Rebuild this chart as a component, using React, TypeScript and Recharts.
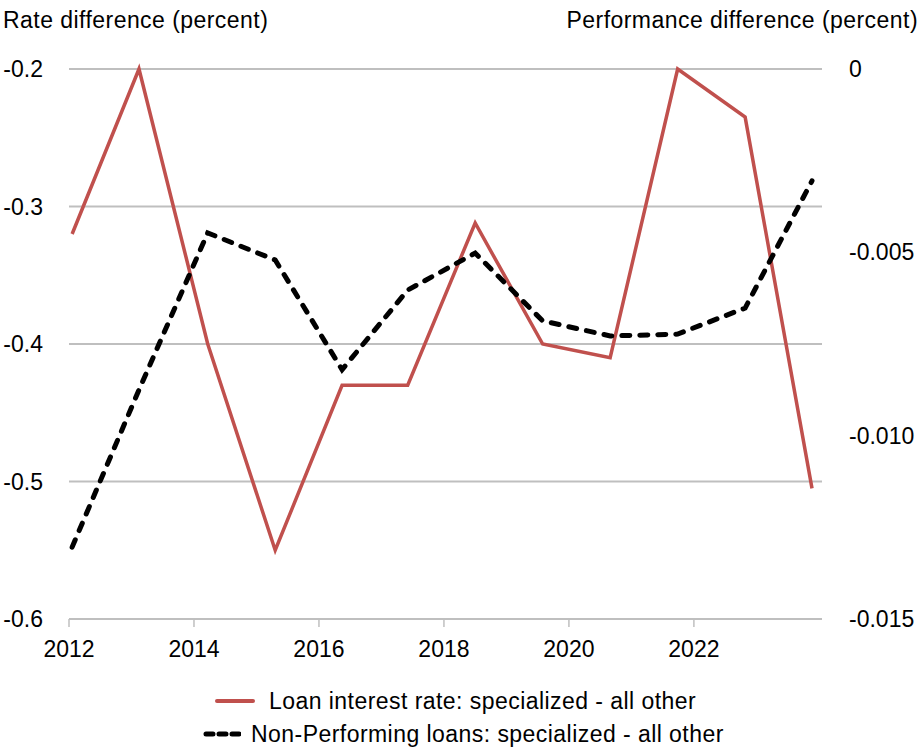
import React from "react";
import { LineChart, Line, XAxis, YAxis, CartesianGrid } from "recharts";

// positions along the date axis (fractional years)
const periods = [2012.05, 2013.12, 2014.22, 2015.3, 2016.37, 2017.42, 2018.5, 2019.58, 2020.66, 2021.74, 2022.82, 2023.89];
const loanRate = [-0.32, -0.2, -0.4, -0.55, -0.43, -0.43, -0.312, -0.4, -0.41, -0.2, -0.235, -0.505];
const nplDiff = [-0.01304, -0.00875, -0.00447, -0.00521, -0.0082, -0.00603, -0.00502, -0.00687, -0.00728, -0.00723, -0.00652, -0.00305];

const yearTicks = [2012, 2014, 2016, 2018, 2020, 2022];
const rateTicks = [-0.6, -0.5, -0.4, -0.3, -0.2];
const perfTicks = [-0.015, -0.01, -0.005, 0];

const data = periods.map((p, i) => ({ t: p, rate: loanRate[i], npl: nplDiff[i] }));

const FONT = '"Liberation Sans", Arial, Helvetica, sans-serif';
const RED = "#c0504d";
const GRID = "#bfbfbf";
const tickStyle = { fill: "#000", fontSize: 23, fontFamily: FONT };
const textStyle = { fontSize: 23, lineHeight: 1, whiteSpace: "nowrap" as const, letterSpacing: 0.45 };

const App: React.FC = () => (
  <div style={{ position: "absolute", left: 0, top: 0, width: 920, height: 756, background: "#fff", fontFamily: FONT, color: "#000" }}>
    <div style={{ ...textStyle, position: "absolute", left: 3, top: 8.5 }}>Rate difference (percent)</div>
    <div style={{ ...textStyle, position: "absolute", right: 2, top: 8.5 }}>Performance difference (percent)</div>

    <LineChart width={920} height={756} data={data} margin={{ top: 69, right: 0, left: 0, bottom: 97 }}>
      <CartesianGrid yAxisId="left" vertical={false} stroke={GRID} strokeWidth={2} />
      <XAxis
        dataKey="t"
        type="number"
        domain={[2012, 2024.05]}
        ticks={yearTicks}
        height={40}
        tick={tickStyle}
        tickSize={8}
        tickMargin={14}
        axisLine={{ stroke: GRID, strokeWidth: 2 }}
        tickLine={{ stroke: GRID, strokeWidth: 1.5 }}
      />
      <YAxis
        yAxisId="left"
        orientation="left"
        width={69}
        domain={[-0.6, -0.2]}
        ticks={rateTicks}
        tickFormatter={(v: number) => v.toFixed(1)}
        tick={tickStyle}
        tickSize={0}
        tickMargin={26}
        axisLine={false}
        tickLine={false}
      />
      <YAxis
        yAxisId="right"
        orientation="right"
        width={98}
        domain={[-0.015, 0]}
        ticks={perfTicks}
        tickFormatter={(v: number) => (Math.abs(v) < 1e-9 ? "0" : v.toFixed(3))}
        tick={{ ...tickStyle, textAnchor: "start" }}
        tickSize={0}
        tickMargin={27}
        axisLine={false}
        tickLine={false}
      />
      <Line
        yAxisId="left"
        type="linear"
        dataKey="rate"
        stroke={RED}
        strokeWidth={3.5}
        dot={false}
        isAnimationActive={false}
      />
      <Line
        yAxisId="right"
        type="linear"
        dataKey="npl"
        stroke="#000"
        strokeWidth={5}
        strokeDasharray="8 10"
        strokeLinecap="round"
        dot={false}
        isAnimationActive={false}
      />
    </LineChart>

    <div style={{ ...textStyle, position: "absolute", left: 215, top: 684.5, height: 33, display: "flex", alignItems: "center" }}>
      <svg width={40} height={10} style={{ marginRight: 14 }}>
        <line x1={2} y1={5} x2={38} y2={5} stroke={RED} strokeWidth={4} strokeLinecap="round" />
      </svg>
      Loan interest rate: specialized - all other
    </div>
    <div style={{ ...textStyle, position: "absolute", left: 203, top: 717.5, height: 33, display: "flex", alignItems: "center" }}>
      <svg width={38} height={10} style={{ marginRight: 10 }}>
        <line x1={3} y1={5} x2={36} y2={5} stroke="#000" strokeWidth={5} strokeDasharray="7 6" strokeLinecap="round" />
      </svg>
      Non-Performing loans: specialized - all other
    </div>
  </div>
);

export default App;
